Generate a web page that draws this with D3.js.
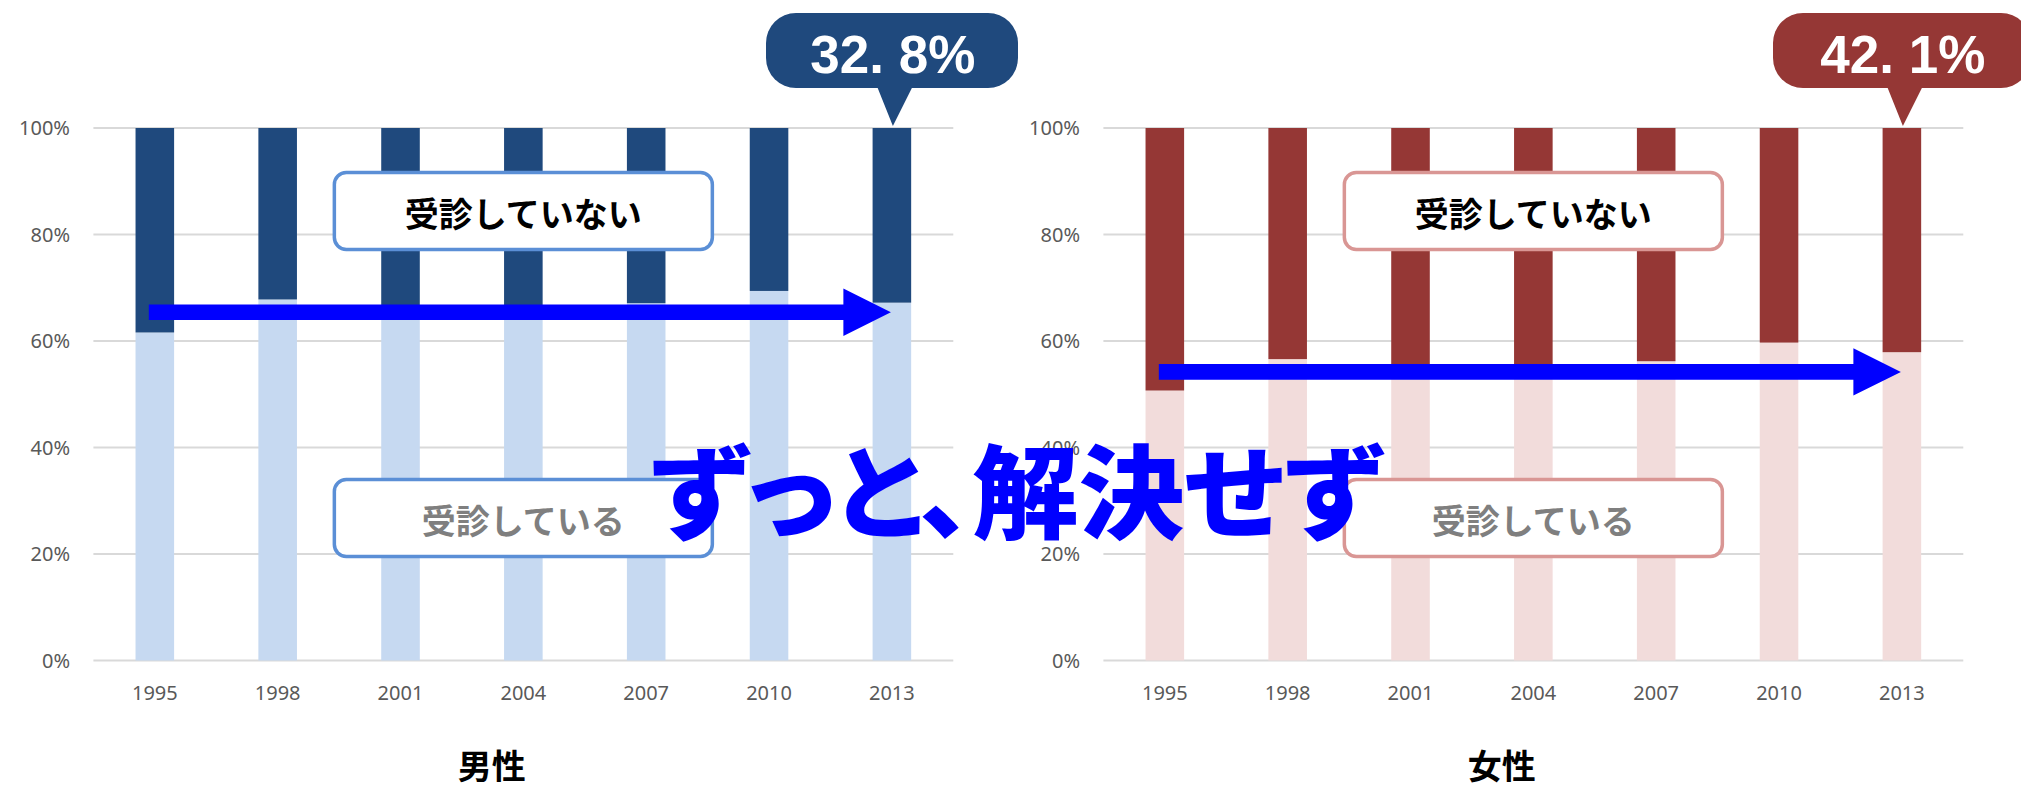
<!DOCTYPE html>
<html>
<head>
<meta charset="utf-8">
<script src="https://cdn.jsdelivr.net/npm/d3@7"></script>
<style>
    body { margin: 0; background: #fff; }
    svg { display: block; }
</style>
</head>
<body>
<div id="chart-container"></div>
<script>
// data
const years = ['1995', '1998', '2001', '2004', '2007', '2010', '2013'];
const maleConsulted = [61.6, 67.8, 66.0, 66.4, 67.1, 69.4, 67.2];
const femaleConsulted = [50.7, 56.6, 55.2, 55.0, 56.2, 59.7, 57.9];
const yTicks = [0, 20, 40, 60, 80, 100];
const panelTitles = ['男性', '女性'];
const arrowLevels = [65.4, 54.2];
const boxLabels = ['受診していない', '受診している'];
const headline = 'ずっと、解決せず';

function createChart(elementId) {
    const width = 2021;
    const height = 788;
    const panelOffset = 1010;
    const jpFont = '"Noto Sans CJK JP", "Noto Sans", sans-serif';

    const svg = d3.select(elementId).append('svg')
        .attr('width', width)
        .attr('height', height);

    const panels = [
        { title: panelTitles[0], values: maleConsulted, dark: '#1f497d', light: '#c6d9f1', border: '#5b8fd6', arrow: arrowLevels[0] },
        { title: panelTitles[1], values: femaleConsulted, dark: '#953735', light: '#f2dcdb', border: '#d99694', arrow: arrowLevels[1] }
    ];

    const x = d3.scaleBand()
        .domain(years)
        .range([93.4, 953.3])
        .paddingInner(0.686)
        .paddingOuter(0.343);

    const y = d3.scaleLinear()
        .domain([0, 100])
        .range([660.5, 128]);

    panels.forEach((p, i) => {
        const g = svg.append('g')
            .attr('transform', `translate(${i * panelOffset},0)`);

        // gridlines
        g.selectAll('.grid')
            .data(yTicks)
            .join('line')
            .attr('class', 'grid')
            .attr('x1', 93.4)
            .attr('x2', 953.3)
            .attr('y1', d => y(d))
            .attr('y2', d => y(d))
            .attr('stroke', '#d9d9d9')
            .attr('stroke-width', 2);

        // y axis labels
        g.selectAll('.ylab')
            .data(yTicks)
            .join('text')
            .attr('class', 'ylab')
            .attr('x', 70)
            .attr('y', d => y(d))
            .attr('dy', '0.35em')
            .attr('text-anchor', 'end')
            .style('font-family', '"Noto Sans", sans-serif')
            .style('font-size', '20px')
            .style('fill', '#595959')
            .text(d => d + '%');

        // x axis labels
        g.selectAll('.xlab')
            .data(years)
            .join('text')
            .attr('class', 'xlab')
            .attr('x', d => x(d) + x.bandwidth() / 2)
            .attr('y', 692.5)
            .attr('dy', '0.35em')
            .attr('text-anchor', 'middle')
            .style('font-family', '"Noto Sans", sans-serif')
            .style('font-size', '20px')
            .style('fill', '#595959')
            .text(d => d);

        // consulted (bottom)
        g.selectAll('.bar-low')
            .data(p.values)
            .join('rect')
            .attr('class', 'bar-low')
            .attr('x', (d, j) => x(years[j]))
            .attr('width', x.bandwidth())
            .attr('y', d => y(d))
            .attr('height', d => y(0) - y(d))
            .attr('fill', p.light);

        // not consulted (top)
        g.selectAll('.bar-high')
            .data(p.values)
            .join('rect')
            .attr('class', 'bar-high')
            .attr('x', (d, j) => x(years[j]))
            .attr('width', x.bandwidth())
            .attr('y', y(100))
            .attr('height', d => y(d) - y(100))
            .attr('fill', p.dark);

        // label boxes
        const boxCenters = [211, 518];
        boxLabels.forEach((label, k) => {
            const cx = (93.4 + 953.3) / 2;
            g.append('rect')
                .attr('x', cx - 189)
                .attr('y', boxCenters[k] - 38.5)
                .attr('width', 378)
                .attr('height', 77)
                .attr('rx', 12)
                .attr('fill', '#fff')
                .attr('stroke', p.border)
                .attr('stroke-width', 3.5);
            g.append('text')
                .attr('x', cx)
                .attr('y', boxCenters[k] + 4)
                .attr('dy', '0.35em')
                .attr('text-anchor', 'middle')
                .style('font-family', jpFont)
                .style('font-weight', 700)
                .style('font-size', '34px')
                .style('fill', k === 0 ? '#000' : '#7f7f7f')
                .text(label);
        });

        // arrow
        const ax0 = x(years[0]) + x.bandwidth() / 2 - 6;
        const ax1 = x(years[years.length - 1]) + x.bandwidth() / 2 - 1;
        const ay = y(p.arrow);
        const headLen = 47.5;
        const shaft = 7.8;
        const head = 23.7;
        g.append('path')
            .attr('d', `M${ax0},${ay - shaft}H${ax1 - headLen}V${ay - head}L${ax1},${ay}L${ax1 - headLen},${ay + head}V${ay + shaft}H${ax0}Z`)
            .attr('fill', '#0000ff');

        // callout for last year
        const last = p.values[p.values.length - 1];
        const tipX = x(years[years.length - 1]) + x.bandwidth() / 2 + 1;
        const bx = i === 0 ? 766 : 763;
        const bw = i === 0 ? 252 : 258;
        g.append('rect')
            .attr('x', bx)
            .attr('y', 13)
            .attr('width', bw)
            .attr('height', 75)
            .attr('rx', 30)
            .attr('fill', p.dark);
        g.append('path')
            .attr('d', `M${tipX - 16},86L${tipX},${y(100) - 2}L${tipX + 20},86Z`)
            .attr('fill', p.dark);
        g.append('text')
            .attr('x', tipX)
            .attr('y', 73)
            .attr('text-anchor', 'middle')
            .style('font-family', '"Liberation Sans", Arial, sans-serif')
            .style('font-weight', 700)
            .style('font-size', '53px')
            .style('fill', '#fff')
            .text(d3.format('.1f')(100 - last).replace('.', '. ') + '%');

        // panel title
        g.append('text')
            .attr('x', 491.7)
            .attr('y', 766)
            .attr('dy', '0.38em')
            .attr('text-anchor', 'middle')
            .style('font-family', jpFont)
            .style('font-weight', 700)
            .style('font-size', '34px')
            .style('fill', '#000')
            .text(p.title);
    });

    // headline across both panels
    svg.append('text')
        .attr('x', 1016)
        .attr('y', 531)
        .attr('text-anchor', 'middle')
        .attr('textLength', 732)
        .attr('lengthAdjust', 'spacingAndGlyphs')
        .style('font-family', jpFont)
        .style('font-weight', 900)
        .style('font-size', '102px')
        .style('font-feature-settings', '"palt" 1')
        .style('fill', '#0000ff')
        .text(headline);
}

createChart('#chart-container');
</script>
</body>
</html>
